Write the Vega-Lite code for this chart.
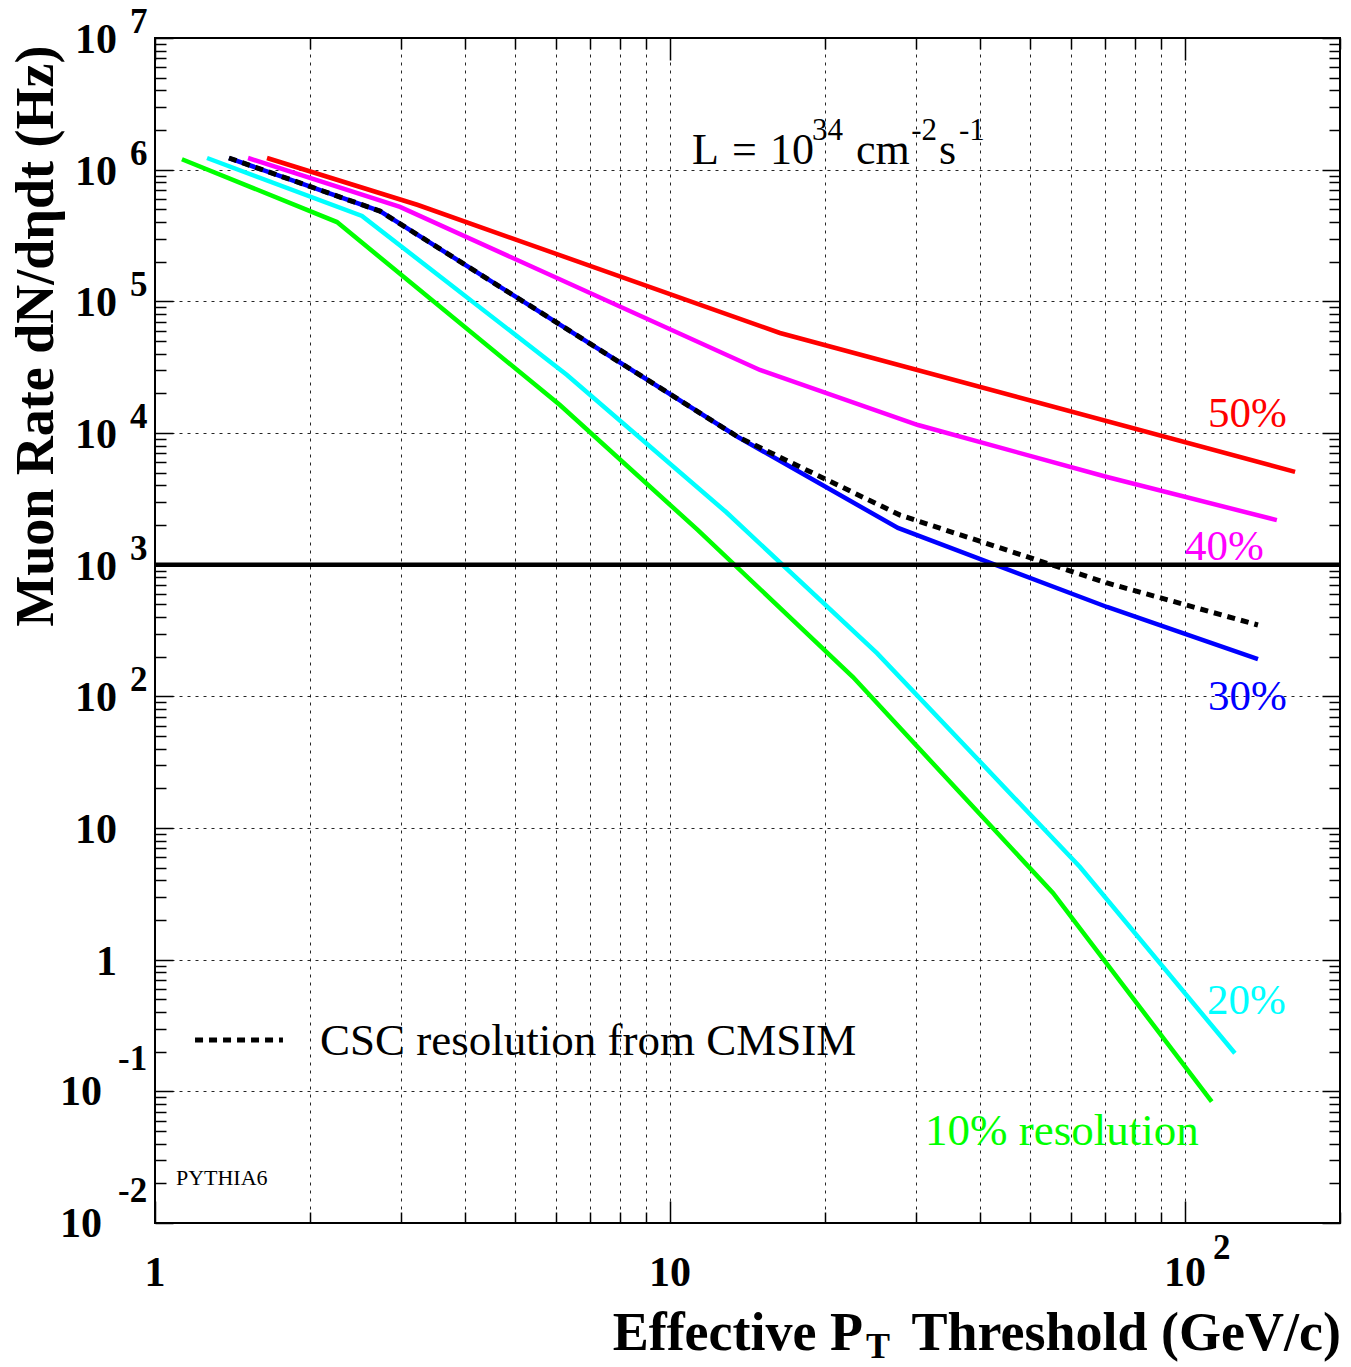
{
  "$schema": "https://vega.github.io/schema/vega-lite/v6.json",
  "width": 1185,
  "height": 1185,
  "autosize": {"type": "none"},
  "padding": {"left": 155, "top": 38, "right": 11, "bottom": 144},
  "background": "white",
  "config": {"view": {"stroke": "black", "strokeWidth": 2}, "font": "Liberation Serif"},
  "datasets": {
    "curves": [
      {"res": "50%", "pt": 1.65, "rate": 1226000},
      {"res": "50%", "pt": 3.24, "rate": 539000},
      {"res": "50%", "pt": 16.35, "rate": 57500},
      {"res": "50%", "pt": 163.6, "rate": 5070},
      {"res": "40%", "pt": 1.516, "rate": 1226000},
      {"res": "40%", "pt": 2.99, "rate": 521000},
      {"res": "40%", "pt": 14.95, "rate": 30100},
      {"res": "40%", "pt": 30.31, "rate": 11500},
      {"res": "40%", "pt": 70.58, "rate": 4630},
      {"res": "40%", "pt": 150.8, "rate": 2180},
      {"res": "30%", "pt": 1.392, "rate": 1226000},
      {"res": "30%", "pt": 2.734, "rate": 485000},
      {"res": "30%", "pt": 13.55, "rate": 9330},
      {"res": "30%", "pt": 27.71, "rate": 1900},
      {"res": "30%", "pt": 70.58, "rate": 477},
      {"res": "30%", "pt": 138.6, "rate": 192},
      {"res": "CSC", "pt": 1.392, "rate": 1226000},
      {"res": "CSC", "pt": 2.734, "rate": 485000},
      {"res": "CSC", "pt": 13.55, "rate": 9330},
      {"res": "CSC", "pt": 27.97, "rate": 2380},
      {"res": "CSC", "pt": 70.58, "rate": 726},
      {"res": "CSC", "pt": 138.6, "rate": 348},
      {"res": "20%", "pt": 1.262, "rate": 1226000},
      {"res": "20%", "pt": 2.523, "rate": 445000},
      {"res": "20%", "pt": 6.31, "rate": 27600},
      {"res": "20%", "pt": 12.85, "rate": 2510},
      {"res": "20%", "pt": 25.23, "rate": 213},
      {"res": "20%", "pt": 62.54, "rate": 5.06},
      {"res": "20%", "pt": 125.0, "rate": 0.1945},
      {"res": "10%", "pt": 1.128, "rate": 1200000},
      {"res": "10%", "pt": 2.256, "rate": 400000},
      {"res": "10%", "pt": 6.114, "rate": 16300},
      {"res": "10%", "pt": 11.33, "rate": 1830},
      {"res": "10%", "pt": 22.66, "rate": 140},
      {"res": "10%", "pt": 55.42, "rate": 3.21},
      {"res": "10%", "pt": 112.7, "rate": 0.0834}
    ],
    "labels": [
      {"res": "50%", "t": "50%", "pt": 110.8, "rate": 11110},
      {"res": "40%", "t": "40%", "pt": 100, "rate": 1085},
      {"res": "30%", "t": "30%", "pt": 110.8, "rate": 78.8},
      {"res": "20%", "t": "20%", "pt": 110.4, "rate": 0.387}
    ],
    "biglabels": [
      {"res": "10%", "t": "10% resolution", "pt": 31.27, "rate": 0.0391}
    ],
    "notes": [
      {"k": "main", "t": "L", "pt": 11.03, "rate": 1104000},
      {"k": "main", "t": "=", "pt": 13.19, "rate": 1104000},
      {"k": "main", "t": "10", "pt": 15.64, "rate": 1104000},
      {"k": "sup", "t": "34", "pt": 18.87, "rate": 1680000},
      {"k": "main", "t": "cm", "pt": 22.97, "rate": 1104000},
      {"k": "sup", "t": "-2", "pt": 29.4, "rate": 1680000},
      {"k": "main", "t": "s", "pt": 33.3, "rate": 1104000},
      {"k": "sup", "t": "-1", "pt": 36.4, "rate": 1680000},
      {"k": "small", "t": "PYTHIA6", "pt": 1.098, "rate": 0.01945},
      {"k": "legend", "t": "CSC resolution from CMSIM", "pt": 2.091, "rate": 0.189}
    ],
    "ticklabels": [
      {"ax": "y", "g": "pos", "pt": 1, "rate": 10000000, "base": "10", "exp": "7"},
      {"ax": "y", "g": "pos", "pt": 1, "rate": 1000000, "base": "10", "exp": "6"},
      {"ax": "y", "g": "pos", "pt": 1, "rate": 100000, "base": "10", "exp": "5"},
      {"ax": "y", "g": "pos", "pt": 1, "rate": 10000, "base": "10", "exp": "4"},
      {"ax": "y", "g": "pos", "pt": 1, "rate": 1000, "base": "10", "exp": "3"},
      {"ax": "y", "g": "pos", "pt": 1, "rate": 100, "base": "10", "exp": "2"},
      {"ax": "y", "g": "plain", "pt": 1, "rate": 10, "base": "10", "exp": ""},
      {"ax": "y", "g": "plain", "pt": 1, "rate": 1, "base": "1", "exp": ""},
      {"ax": "y", "g": "neg", "pt": 1, "rate": 0.1, "base": "10", "exp": "-1"},
      {"ax": "y", "g": "neg", "pt": 1, "rate": 0.01, "base": "10", "exp": "-2"},
      {"ax": "x", "g": "plain", "pt": 1, "rate": 0.01, "base": "1", "exp": ""},
      {"ax": "x", "g": "plain", "pt": 10, "rate": 0.01, "base": "10", "exp": ""},
      {"ax": "x", "g": "pos", "pt": 100, "rate": 0.01, "base": "10", "exp": "2"}
    ],
    "xtitle": [
      {"p": "a", "t": "Threshold (GeV/c)", "pt": 200, "rate": 0.01},
      {"p": "b", "t": "Effective P", "pt": 200, "rate": 0.01},
      {"p": "c", "t": "T", "pt": 200, "rate": 0.01}
    ],
    "threshold": [{"pt": 1, "pt2": 200, "rate": 1000}],
    "legendline": [{"pt": 1.196, "pt2": 1.772, "rate": 0.2455}]
  },
  "encoding": {
    "x": {"field": "pt", "type": "quantitative", "scale": {"type": "log", "domain": [1, 200], "nice": false}, "axis": null},
    "y": {"field": "rate", "type": "quantitative", "scale": {"type": "log", "domain": [0.01, 10000000], "nice": false}, "axis": null}
  },
  "layer": [
    {
      "data": {"name": "curves"},
      "transform": [{"filter": "datum.res !== 'CSC'"}],
      "mark": {"type": "line", "strokeWidth": 4.5, "strokeJoin": "miter"},
      "encoding": {
        "x": {"field": "pt", "type": "quantitative", "scale": {"type": "log", "domain": [1, 200], "nice": false},
          "axis": {"orient": "bottom", "values": [1,2,3,4,5,6,7,8,9,10,20,30,40,50,60,70,80,90,100,200], "labels": false, "title": null, "domain": false,
            "grid": true, "gridColor": "#000", "gridOpacity": 0.85, "gridDash": [3, 5], "gridWidth": 1,
            "tickColor": "#000", "tickWidth": 1.5,
            "tickSize": {"condition": {"test": "abs(log(datum.value)/LN10 - round(log(datum.value)/LN10)) < 0.001", "value": -22}, "value": -11}}},
        "y": {"field": "rate", "type": "quantitative", "scale": {"type": "log", "domain": [0.01, 10000000], "nice": false},
          "axis": {"orient": "left", "values": [0.01,0.02,0.03,0.04,0.05,0.06,0.07,0.08,0.09,0.1,0.2,0.3,0.4,0.5,0.6,0.7,0.8,0.9,1,2,3,4,5,6,7,8,9,10,20,30,40,50,60,70,80,90,100,200,300,400,500,600,700,800,900,1000,2000,3000,4000,5000,6000,7000,8000,9000,10000,20000,30000,40000,50000,60000,70000,80000,90000,100000,200000,300000,400000,500000,600000,700000,800000,900000,1000000,2000000,3000000,4000000,5000000,6000000,7000000,8000000,9000000,10000000],
            "labels": false, "domain": false,
            "title": "Muon Rate dN/dηdt (Hz)", "titleFont": "Liberation Serif", "titleFontSize": 54, "titleFontWeight": "bold", "titleColor": "#000",
            "titleAngle": 270, "titleAlign": "right", "titleBaseline": "alphabetic", "titleX": -103, "titleY": 7,
            "grid": true, "gridColor": "#000", "gridDash": [3, 5], "gridWidth": 1,
            "gridOpacity": {"condition": {"test": "abs(log(datum.value)/LN10 - round(log(datum.value)/LN10)) < 0.001", "value": 0.85}, "value": 0},
            "tickColor": "#000", "tickWidth": 1.5,
            "tickSize": {"condition": {"test": "abs(log(datum.value)/LN10 - round(log(datum.value)/LN10)) < 0.001", "value": -18}, "value": -11}}},
        "color": {"field": "res", "type": "nominal", "scale": {"domain": ["50%", "40%", "30%", "20%", "10%"], "range": ["#ff0000", "#ff00ff", "#0000ff", "#00ffff", "#00ff00"]}, "legend": null}
      }
    },
    {
      "data": {"name": "curves"},
      "transform": [{"filter": "datum.res === 'CSC'"}],
      "mark": {"type": "line", "strokeWidth": 5, "color": "#000", "strokeDash": [8, 6]}
    },
    {
      "data": {"name": "threshold"},
      "mark": {"type": "rule", "strokeWidth": 4.5, "color": "#000"},
      "encoding": {"x2": {"field": "pt2"}}
    },
    {
      "data": {"name": "labels"},
      "mark": {"type": "text", "align": "left", "baseline": "alphabetic", "fontSize": 43, "font": "Liberation Serif"},
      "encoding": {
        "x": {"field": "pt", "type": "quantitative", "scale": {"type": "log", "domain": [1, 200], "nice": false},
          "axis": {"orient": "top", "values": [1,2,3,4,5,6,7,8,9,10,20,30,40,50,60,70,80,90,100,200], "labels": false, "title": null, "domain": false, "grid": false,
            "tickColor": "#000", "tickWidth": 1.5,
            "tickSize": {"condition": {"test": "abs(log(datum.value)/LN10 - round(log(datum.value)/LN10)) < 0.001", "value": -22}, "value": -11}}},
        "y": {"field": "rate", "type": "quantitative", "scale": {"type": "log", "domain": [0.01, 10000000], "nice": false},
          "axis": {"orient": "right", "values": [0.01,0.02,0.03,0.04,0.05,0.06,0.07,0.08,0.09,0.1,0.2,0.3,0.4,0.5,0.6,0.7,0.8,0.9,1,2,3,4,5,6,7,8,9,10,20,30,40,50,60,70,80,90,100,200,300,400,500,600,700,800,900,1000,2000,3000,4000,5000,6000,7000,8000,9000,10000,20000,30000,40000,50000,60000,70000,80000,90000,100000,200000,300000,400000,500000,600000,700000,800000,900000,1000000,2000000,3000000,4000000,5000000,6000000,7000000,8000000,9000000,10000000],
            "labels": false, "title": null, "domain": false, "grid": false,
            "tickColor": "#000", "tickWidth": 1.5,
            "tickSize": {"condition": {"test": "abs(log(datum.value)/LN10 - round(log(datum.value)/LN10)) < 0.001", "value": -18}, "value": -11}}},
        "text": {"field": "t"},
        "color": {"field": "res", "type": "nominal", "scale": {"domain": ["50%", "40%", "30%", "20%", "10%"], "range": ["#ff0000", "#ff00ff", "#0000ff", "#00ffff", "#00ff00"]}, "legend": null}
      }
    },
    {
      "data": {"name": "biglabels"},
      "mark": {"type": "text", "align": "left", "baseline": "alphabetic", "fontSize": 45, "color": "#00ff00"},
      "encoding": {"text": {"field": "t"}}
    },
    {
      "data": {"name": "notes"},
      "transform": [{"filter": "datum.k === 'main'"}],
      "mark": {"type": "text", "align": "left", "baseline": "alphabetic", "fontSize": 44, "color": "#000"},
      "encoding": {"text": {"field": "t"}}
    },
    {
      "data": {"name": "notes"},
      "transform": [{"filter": "datum.k === 'sup'"}],
      "mark": {"type": "text", "align": "left", "baseline": "alphabetic", "fontSize": 31, "color": "#000"},
      "encoding": {"text": {"field": "t"}}
    },
    {
      "data": {"name": "notes"},
      "transform": [{"filter": "datum.k === 'small'"}],
      "mark": {"type": "text", "align": "left", "baseline": "alphabetic", "fontSize": 22, "color": "#000"},
      "encoding": {"text": {"field": "t"}}
    },
    {
      "data": {"name": "notes"},
      "transform": [{"filter": "datum.k === 'legend'"}],
      "mark": {"type": "text", "align": "left", "baseline": "alphabetic", "fontSize": 45, "color": "#000"},
      "encoding": {"text": {"field": "t"}}
    },
    {
      "data": {"name": "legendline"},
      "mark": {"type": "rule", "strokeWidth": 5, "color": "#000", "strokeDash": [8, 6]},
      "encoding": {"x2": {"field": "pt2"}}
    },
    {
      "data": {"name": "ticklabels"},
      "transform": [{"filter": "datum.ax === 'y' && datum.g !== 'neg'"}],
      "mark": {"type": "text", "align": "right", "baseline": "middle", "dx": -38, "dy": 2, "fontSize": 42, "fontWeight": "bold", "color": "#000"},
      "encoding": {"text": {"field": "base"}}
    },
    {
      "data": {"name": "ticklabels"},
      "transform": [{"filter": "datum.ax === 'y' && datum.g === 'neg'"}],
      "mark": {"type": "text", "align": "right", "baseline": "middle", "dx": -53, "dy": 1, "fontSize": 42, "fontWeight": "bold", "color": "#000"},
      "encoding": {"text": {"field": "base"}}
    },
    {
      "data": {"name": "ticklabels"},
      "transform": [{"filter": "datum.ax === 'y' && datum.g === 'pos'"}],
      "mark": {"type": "text", "align": "left", "baseline": "middle", "dx": -25, "dy": -16, "fontSize": 35, "fontWeight": "bold", "color": "#000"},
      "encoding": {"text": {"field": "exp"}}
    },
    {
      "data": {"name": "ticklabels"},
      "transform": [{"filter": "datum.ax === 'y' && datum.g === 'neg'"}],
      "mark": {"type": "text", "align": "left", "baseline": "middle", "dx": -37, "dy": -32, "fontSize": 35, "fontWeight": "bold", "color": "#000"},
      "encoding": {"text": {"field": "exp"}}
    },
    {
      "data": {"name": "ticklabels"},
      "transform": [{"filter": "datum.ax === 'x'"}],
      "mark": {"type": "text", "align": "center", "baseline": "middle", "dy": 50, "fontSize": 42, "fontWeight": "bold", "color": "#000"},
      "encoding": {"text": {"field": "base"}}
    },
    {
      "data": {"name": "ticklabels"},
      "transform": [{"filter": "datum.ax === 'x' && datum.g === 'pos'"}],
      "mark": {"type": "text", "align": "left", "baseline": "middle", "dx": 28, "dy": 25, "fontSize": 35, "fontWeight": "bold", "color": "#000"},
      "encoding": {"text": {"field": "exp"}}
    },
    {
      "data": {"name": "xtitle"},
      "transform": [{"filter": "datum.p === 'a'"}],
      "mark": {"type": "text", "align": "right", "baseline": "alphabetic", "dx": 1, "dy": 127, "fontSize": 54, "fontWeight": "bold", "color": "#000"},
      "encoding": {"text": {"field": "t"}}
    },
    {
      "data": {"name": "xtitle"},
      "transform": [{"filter": "datum.p === 'b'"}],
      "mark": {"type": "text", "align": "right", "baseline": "alphabetic", "dx": -477, "dy": 127, "fontSize": 54, "fontWeight": "bold", "color": "#000"},
      "encoding": {"text": {"field": "t"}}
    },
    {
      "data": {"name": "xtitle"},
      "transform": [{"filter": "datum.p === 'c'"}],
      "mark": {"type": "text", "align": "left", "baseline": "alphabetic", "dx": -474, "dy": 135, "fontSize": 36, "fontWeight": "bold", "color": "#000"},
      "encoding": {"text": {"field": "t"}}
    }
  ],
  "resolve": {"axis": {"x": "independent", "y": "independent"}}
}
